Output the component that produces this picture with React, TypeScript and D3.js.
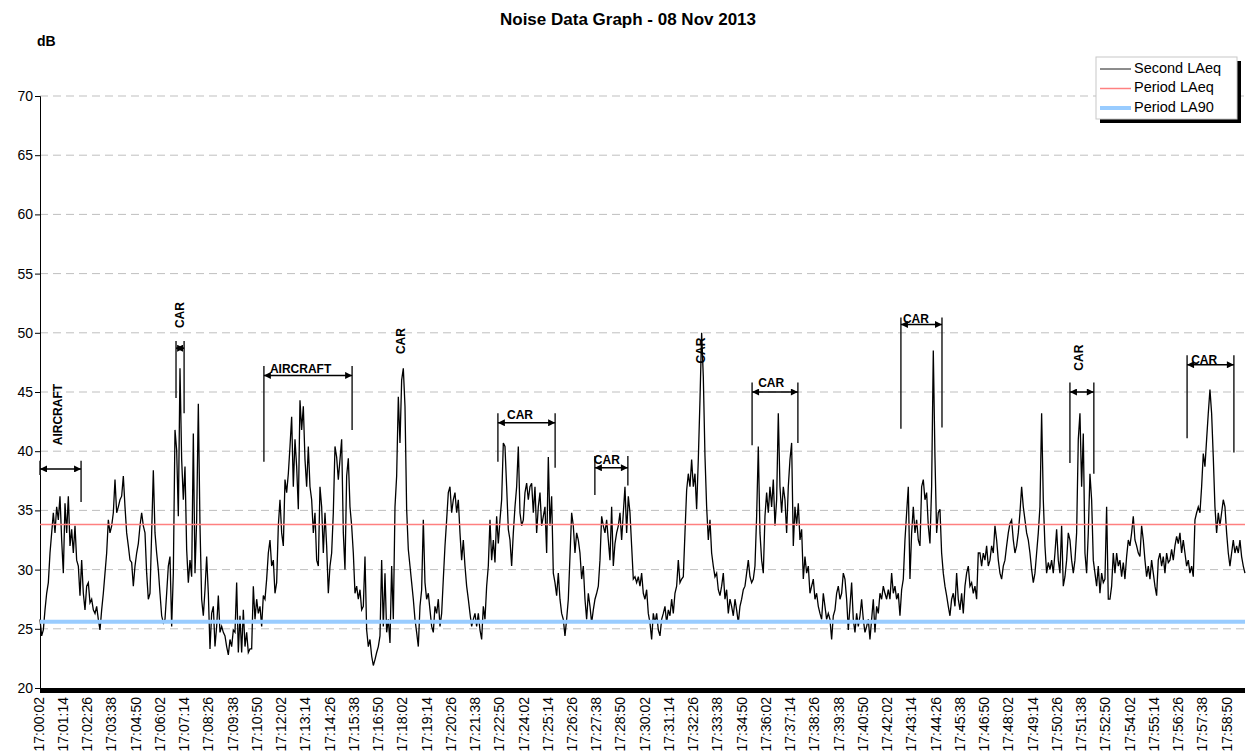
import { useEffect, useRef } from 'react';
import * as d3 from 'd3';

// Second LAeq readings, one every 4.95 s from 17:00:02
const STEP = 4.95;
const secondLAeq = [
  25.8, 24.4, 24.9, 26.6, 28.0, 28.9, 31.4, 33.1, 34.8, 33.1,
  35.3, 34.2, 36.2, 32.5, 29.7, 35.6, 33.1, 36.2, 32.0, 33.4,
  31.4, 33.7, 30.8, 30.3, 27.8, 30.8, 28.0, 26.6, 28.6, 28.9,
  27.2, 27.5, 26.6, 26.3, 26.9, 25.8, 24.9, 26.6, 28.0, 29.7,
  31.4, 34.2, 33.1, 33.7, 34.8, 37.6, 34.8, 35.3, 35.9, 36.2,
  37.9, 35.3, 33.1, 32.0, 30.8, 30.6, 28.6, 30.3, 31.4, 32.2,
  33.7, 34.8, 33.7, 33.1, 29.7, 27.5, 28.0, 33.1, 38.4, 33.1,
  31.4, 30.0, 28.0, 26.1, 25.5, 25.8, 28.0, 30.3, 31.1, 25.2,
  29.7, 41.8, 40.1, 34.5, 47.0, 39.3, 35.9,
  38.7, 31.7, 28.9, 30.8, 29.4, 41.5, 29.7, 34.2, 44.0, 33.7,
  27.5, 26.1, 28.3, 31.1, 28.0, 23.3, 26.3, 26.9, 23.5, 25.2,
  27.8, 24.7, 25.2, 24.7, 24.4, 23.5, 22.8, 24.1, 23.5, 24.9,
  24.7, 28.9, 23.0, 26.1, 23.0, 26.6, 23.5, 24.7, 23.0, 23.3,
  23.3, 28.6, 25.8, 27.5, 26.3, 26.9, 25.2, 27.8, 27.5, 29.2,
  31.4, 32.5, 30.3, 30.8, 28.0, 28.9, 33.7, 35.9, 33.1, 32.0,
  37.6, 36.5, 38.1, 40.4, 42.9, 37.0, 41.0, 38.7, 35.1, 44.3,
  41.8, 43.8, 39.3, 37.0, 40.4, 37.0, 35.9, 33.1, 34.8, 30.8,
  30.3, 37.0, 35.3, 31.4, 34.8, 32.0, 28.0, 30.3, 31.4, 34.8,
  40.4, 39.5, 37.6, 39.3, 41.0, 33.1, 30.0, 37.9, 39.4, 35.3,
  33.7, 31.4, 28.0, 28.6, 27.5, 28.3, 26.6, 26.9, 31.1, 24.9,
  23.5, 24.1, 22.7, 21.9, 22.4, 23.0, 23.5, 24.4, 30.8, 25.2,
  29.7, 24.7, 25.8, 23.8, 30.3, 25.8, 35.3, 37.9, 44.6, 40.7,
  46.0, 47.0, 43.8, 35.1, 31.7, 30.3, 28.9, 27.5, 25.8, 24.7,
  23.5, 26.9, 28.3, 34.2, 28.9, 27.5, 28.0, 26.6, 25.2, 24.7,
  26.9, 26.3, 27.5, 25.2, 26.3, 29.2, 32.0, 34.2, 36.5, 37.0,
  34.8, 35.9, 36.5, 34.8, 35.9, 33.1, 30.8, 32.5, 30.3, 28.6,
  27.5, 26.3, 25.2, 25.8, 26.3, 25.2, 26.3, 24.9, 24.1, 26.9,
  25.8, 28.6, 30.3, 34.2, 30.8, 32.5, 30.6, 34.5, 32.2, 34.2,
  35.9, 40.7, 40.4, 37.0, 33.4, 32.5, 30.3, 33.1, 35.3, 37.0,
  40.4, 34.8, 33.7, 34.2, 36.5, 37.3, 35.9, 37.0, 37.3, 34.8,
  37.0, 33.1, 35.3, 36.5, 33.7, 34.5, 35.3, 31.4, 39.5, 33.7,
  36.2, 29.7, 28.9, 27.8, 29.7, 27.5, 26.3, 25.8, 24.4, 25.8,
  27.5, 31.1, 34.8, 33.7, 31.4, 33.1, 32.5, 31.4, 29.2, 30.3,
  27.5, 25.8, 28.0, 26.9, 25.5, 26.6, 27.5, 28.0, 28.6, 30.8,
  34.5, 33.7, 33.1, 34.2, 32.5, 30.8, 35.3, 30.3, 32.2, 33.1,
  33.7, 34.8, 32.5, 34.8, 37.0, 33.1, 36.2, 34.8, 32.0, 29.2,
  29.4, 28.9, 29.4, 28.6, 29.7, 28.0, 27.5, 28.3, 26.3, 25.5,
  24.1, 26.3, 25.5, 26.3, 24.9, 24.4, 25.8, 26.3, 26.9, 25.5,
  26.6, 26.1, 27.5, 26.3, 28.0, 28.6, 30.8, 28.9, 29.2, 29.4,
  33.1, 36.7, 38.1, 37.0, 39.3, 37.0, 38.1, 35.1, 39.3, 44.3,
  50.0, 46.3, 39.6, 35.3, 32.5, 34.2, 31.4, 30.3, 29.4, 29.7,
  28.3, 27.8, 28.6, 29.7, 27.5, 28.3, 26.3, 27.5, 26.9, 26.1,
  27.5, 26.6, 25.5, 26.9, 27.5, 28.3, 28.6, 29.7, 30.8, 29.4,
  28.9, 29.2, 30.3, 34.5, 40.4, 33.1, 30.8, 29.7, 34.5, 36.5,
  34.8, 37.0, 35.3, 37.6, 33.7, 35.9, 43.2, 37.0, 34.8, 37.0,
  35.9, 33.1, 37.0, 39.3, 40.7, 32.0, 35.3, 33.7, 35.6, 32.5,
  33.4, 29.2, 31.1, 29.7, 30.3, 28.0, 28.6, 29.2, 27.5, 28.0,
  26.9, 26.3, 25.8, 28.0, 26.9, 25.8, 26.3, 25.8, 24.1, 26.1,
  26.6, 28.0, 28.6, 27.5, 28.0, 29.7, 29.2, 27.5, 24.9, 26.9,
  28.9, 25.8, 24.7, 26.3, 25.2, 26.1, 27.5, 25.8, 24.7, 25.2,
  25.8, 24.1, 25.8, 27.5, 24.7, 26.9, 26.3, 28.0, 27.5, 28.6,
  28.0, 27.5, 28.3, 27.5, 29.7, 28.0, 28.6, 27.5, 28.0, 26.1,
  28.3, 29.2, 32.5, 34.8, 37.0, 29.2, 33.1, 35.3, 33.1, 34.2,
  32.5, 32.0, 37.0, 37.6, 35.9, 36.5, 33.7, 32.2, 37.0, 48.5,
  39.5, 33.1, 34.8, 35.1, 31.4, 29.7, 28.6, 27.8, 26.9, 26.1,
  27.5, 28.0, 26.9, 29.7, 27.5, 26.6, 28.0, 26.3, 28.6, 29.7,
  30.3, 28.6, 28.9, 28.0, 28.6, 27.5, 31.4, 31.4, 30.3, 31.4,
  30.8, 32.0, 30.3, 30.8, 32.0, 31.4, 33.7, 32.5, 30.8, 29.7,
  29.2, 30.3, 30.8, 32.0, 33.1, 33.9, 34.2, 32.5, 31.4, 32.0,
  33.1, 34.8, 37.0, 35.3, 34.2, 33.1, 32.5, 31.4, 30.0, 28.9,
  29.7, 31.4, 33.1, 35.3, 43.2, 35.9, 32.0, 29.7, 30.6, 30.0,
  30.8, 29.7, 31.4, 33.4, 30.8, 29.7, 33.7, 28.6, 29.4, 30.8,
  33.1, 32.5, 30.8, 29.7, 30.8, 33.1, 41.0, 43.2, 37.0, 41.5,
  31.4, 29.7, 33.1, 38.1, 35.9, 30.8, 29.7, 28.6, 30.3, 28.0,
  29.7, 28.9, 29.2, 35.3, 27.5, 27.5, 28.6, 31.4, 29.7, 31.4,
  30.3, 30.8, 29.4, 30.6, 29.2, 31.1, 32.5, 32.0, 33.1, 34.5,
  32.5, 32.0, 31.4, 31.1, 33.7, 32.5, 30.8, 29.4, 30.3, 29.2,
  30.8, 29.7, 28.6, 27.8, 30.8, 31.4, 30.3, 31.1, 29.7, 31.4,
  30.6, 30.8, 31.7, 30.8, 32.0, 32.8, 32.2, 33.1, 31.4, 32.5,
  31.4, 30.3, 30.8, 29.7, 30.3, 29.4, 34.2, 34.8, 35.3, 34.8,
  37.0, 39.8, 38.7, 41.0, 43.2, 45.2, 43.2, 39.5, 35.3, 33.1,
  34.8, 33.7, 34.8, 35.9, 35.3, 33.1, 31.4, 30.3, 31.4, 32.5,
  31.4, 32.0, 31.4, 32.5, 31.1, 30.3, 29.7
];
const periodLAeq = 33.8;
const periodLA90 = 25.6;
const SPAN = 3579; // seconds shown on the axis

const yTicks = [20, 25, 30, 35, 40, 45, 50, 55, 60, 65, 70];
const LABEL_GAP = 72; // seconds between time labels
const timeLabels = [
  '17:00:02', '17:01:14', '17:02:26', '17:03:38', '17:04:50', '17:06:02', '17:07:14', '17:08:26',
  '17:09:38', '17:10:50', '17:12:02', '17:13:14', '17:14:26', '17:15:38', '17:16:50', '17:18:02',
  '17:19:14', '17:20:26', '17:21:38', '17:22:50', '17:24:02', '17:25:14', '17:26:26', '17:27:38',
  '17:28:50', '17:30:02', '17:31:14', '17:32:26', '17:33:38', '17:34:50', '17:36:02', '17:37:14',
  '17:38:26', '17:39:38', '17:40:50', '17:42:02', '17:43:14', '17:44:26', '17:45:38', '17:46:50',
  '17:48:02', '17:49:14', '17:50:26', '17:51:38', '17:52:50', '17:54:02', '17:55:14', '17:56:26',
  '17:57:38', '17:58:50'
];

// event brackets: seconds from start, levels in dB
const brackets = [
  { start: 0, end: 122, arrow: 38.5, top: 39.2, bottomL: 38.0, bottomR: 35.7 },
  { start: 404, end: 428, arrow: 48.7, top: 49.3, bottomL: 44.5, bottomR: 43.2 },
  { start: 665, end: 927, arrow: 46.4, top: 47.2, bottomL: 39.1, bottomR: 41.8 },
  { start: 1360, end: 1530, arrow: 42.4, top: 43.2, bottomL: 39.1, bottomR: 38.6 },
  { start: 1648, end: 1746, arrow: 38.6, top: 39.6, bottomL: 36.3, bottomR: 37.1 },
  { start: 2115, end: 2251, arrow: 45.0, top: 45.8, bottomL: 40.5, bottomR: 40.7 },
  { start: 2557, end: 2679, arrow: 50.7, top: 51.3, bottomL: 41.9, bottomR: 42.0 },
  { start: 3059, end: 3130, arrow: 45.0, top: 45.8, bottomL: 39.0, bottomR: 38.1 },
  { start: 3407, end: 3546, arrow: 47.3, top: 48.1, bottomL: 41.1, bottomR: 39.9 }
];
const eventLabels = [
  { text: 'AIRCRAFT', at: 57, db: 40.5, vertical: true },
  { text: 'CAR', at: 419, db: 50.4, vertical: true },
  { text: 'AIRCRAFT', at: 683, db: 46.6, vertical: false },
  { text: 'CAR', at: 1075, db: 48.2, vertical: true },
  { text: 'CAR', at: 1387, db: 42.7, vertical: false },
  { text: 'CAR', at: 1645, db: 38.9, vertical: false },
  { text: 'CAR', at: 1966, db: 47.4, vertical: true },
  { text: 'CAR', at: 2133, db: 45.4, vertical: false },
  { text: 'CAR', at: 2563, db: 50.8, vertical: false },
  { text: 'CAR', at: 3089, db: 46.8, vertical: true },
  { text: 'CAR', at: 3419, db: 47.4, vertical: false }
];

const legendItems = [
  { name: 'Second LAeq', color: '#1a1a1a', width: 1 },
  { name: 'Period LAeq', color: '#ff8080', width: 1.5 },
  { name: 'Period LA90', color: '#99ccff', width: 4 }
];

const FONT = '"Liberation Sans", Arial, sans-serif';

export default function App() {
  const ref = useRef<SVGSVGElement>(null);

  useEffect(() => {
    document.body.style.margin = '0';
    const svg = d3.select(ref.current);
    svg.selectAll('*').remove();

    const w = 1250, h = 756;
    const left = 40, right = 1245, top = 96, bottom = 688;

    const x = d3.scaleLinear().domain([0, SPAN]).range([left, right]);
    const y = d3.scaleLinear().domain([20, 70]).range([bottom, top]);

    svg.append('rect').attr('width', w).attr('height', h).attr('fill', '#fff');

    const defs = svg.append('defs');
    defs.append('marker')
      .attr('id', 'arr')
      .attr('viewBox', '0 0 10 10')
      .attr('refX', 10).attr('refY', 5)
      .attr('markerUnits', 'userSpaceOnUse')
      .attr('markerWidth', 8).attr('markerHeight', 7)
      .attr('orient', 'auto-start-reverse')
      .append('path').attr('d', 'M0,0L10,5L0,10Z').attr('fill', '#000');

    // title
    svg.append('text')
      .attr('x', 628).attr('y', 25)
      .attr('text-anchor', 'middle')
      .attr('font-family', FONT).attr('font-size', 17).attr('font-weight', 'bold')
      .text('Noise Data Graph - 08 Nov 2013');
    svg.append('text')
      .attr('x', 37).attr('y', 46)
      .attr('font-family', FONT).attr('font-size', 14).attr('font-weight', 'bold')
      .text('dB');

    // gridlines
    svg.append('g').selectAll('line')
      .data(yTicks.filter(d => d > 20))
      .join('line')
      .attr('x1', left).attr('x2', right)
      .attr('y1', d => y(d)).attr('y2', d => y(d))
      .attr('stroke', '#bfbfbf').attr('stroke-dasharray', '8,5');

    // y axis
    const yAxis = svg.append('g')
      .attr('transform', `translate(${left},0)`)
      .call(d3.axisLeft(y).tickValues(yTicks).tickSize(5).tickPadding(2));
    yAxis.select('.domain').attr('stroke', '#000');
    yAxis.selectAll('text').attr('font-family', FONT).attr('font-size', 14).attr('fill', '#000');

    // x axis: dense category ticks form a solid band
    svg.append('rect')
      .attr('x', left).attr('y', bottom)
      .attr('width', right - left).attr('height', 5)
      .attr('fill', '#000');

    svg.append('g').selectAll('text')
      .data(timeLabels)
      .join('text')
      .attr('transform', (d, i) => `translate(${x(i * LABEL_GAP)},${bottom + 9}) rotate(-90)`)
      .attr('text-anchor', 'end')
      .attr('dominant-baseline', 'middle')
      .attr('font-family', FONT).attr('font-size', 14)
      .text(d => d);

    // series
    const line = d3.line<number>()
      .x((d, i) => x(i * STEP))
      .y(d => y(d));

    svg.append('path')
      .datum(secondLAeq)
      .attr('fill', 'none')
      .attr('stroke', '#000')
      .attr('stroke-width', 1.3)
      .attr('d', line);

    svg.append('line')
      .attr('x1', left).attr('x2', right)
      .attr('y1', y(periodLAeq)).attr('y2', y(periodLAeq))
      .attr('stroke', '#ff8080').attr('stroke-width', 1.5);
    svg.append('line')
      .attr('x1', left).attr('x2', right)
      .attr('y1', y(periodLA90)).attr('y2', y(periodLA90))
      .attr('stroke', '#99ccff').attr('stroke-width', 4);

    // event brackets
    const br = svg.append('g').selectAll('g').data(brackets).join('g');
    br.append('line')
      .attr('x1', d => x(d.start)).attr('x2', d => x(d.start))
      .attr('y1', d => y(d.top)).attr('y2', d => y(d.bottomL))
      .attr('stroke', '#222').attr('stroke-width', 1.5);
    br.append('line')
      .attr('x1', d => x(d.end)).attr('x2', d => x(d.end))
      .attr('y1', d => y(d.top)).attr('y2', d => y(d.bottomR))
      .attr('stroke', '#222').attr('stroke-width', 1.5);
    br.append('line')
      .attr('x1', d => x(d.start)).attr('x2', d => x(d.end))
      .attr('y1', d => y(d.arrow)).attr('y2', d => y(d.arrow))
      .attr('stroke', '#000').attr('stroke-width', 1.5)
      .attr('marker-start', 'url(#arr)')
      .attr('marker-end', 'url(#arr)');

    svg.append('g').selectAll('text')
      .data(eventLabels)
      .join('text')
      .attr('transform', d => d.vertical
        ? `translate(${x(d.at)},${y(d.db)}) rotate(-90)`
        : `translate(${x(d.at)},${y(d.db)})`)
      .attr('dominant-baseline', d => (d.vertical ? 'middle' : 'auto'))
      .attr('font-family', FONT).attr('font-size', 12).attr('font-weight', 'bold')
      .text(d => d.text);

    // legend
    const lg = svg.append('g').attr('transform', 'translate(1096,57)');
    lg.append('rect').attr('x', 4).attr('y', 4).attr('width', 141).attr('height', 62).attr('fill', '#000');
    lg.append('rect').attr('width', 141).attr('height', 62).attr('fill', '#fff').attr('stroke', '#c8c8c8');
    const items = lg.selectAll('g.item').data(legendItems).join('g')
      .attr('class', 'item')
      .attr('transform', (d, i) => `translate(0,${12 + i * 19.5})`);
    items.append('line')
      .attr('x1', 4).attr('x2', 35)
      .attr('stroke', d => d.color).attr('stroke-width', d => d.width);
    items.append('text')
      .attr('x', 38).attr('dominant-baseline', 'middle')
      .attr('font-family', FONT).attr('font-size', 14.5)
      .text(d => d.name);
  }, []);

  return <svg ref={ref} width={1250} height={756} style={{ display: 'block' }} />;
}
